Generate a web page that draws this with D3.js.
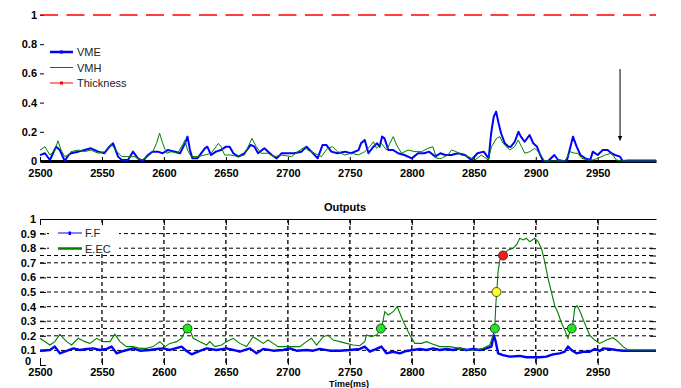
<!DOCTYPE html>
<html>
<head>
<meta charset="utf-8">
<script src="https://cdn.jsdelivr.net/npm/d3@7"></script>
<style>
  body { margin: 0; background: #fff; }
  svg { display: block; font-family: "Liberation Sans", Arial, sans-serif; }
  .tick text { font-weight: bold; font-size: 11px; fill: #000; }
  .lab { font-size: 11px; fill: #222; }
</style>
</head>
<body>
<svg id="chart" width="681" height="388"></svg>
<script>
// ---- top panel, [time (ms), value] ----
var vme = [[2500,0.04],[2504,0.053],[2508,0.007],[2510.5,0.053],[2513,0.098],[2516,0.075],[2520,0],[2523,0.041],[2525,0.053],[2531,0.064],[2536,0.075],[2541,0.087],[2547,0.064],[2552,0.053],[2556,0.098],[2559,0.121],[2563,0.03],[2566,0.007],[2571,0.007],[2575,0.064],[2579,0.018],[2583,0],[2587,0.041],[2591,0.064],[2595,0.064],[2599,0.053],[2603,0.075],[2609,0.064],[2613,0.053],[2617,0.121],[2619,0.167],[2621,0.075],[2623,0.018],[2627,0.018],[2633,0.087],[2635,0.098],[2638,0.041],[2642,0.064],[2646,0.075],[2650,0.098],[2653,0.098],[2656,0.053],[2660,0.03],[2665,0.053],[2670,0.11],[2673,0.098],[2676,0.053],[2681,0.087],[2687,0.041],[2691,0.018],[2695,0.053],[2700,0.053],[2705,0.053],[2711,0.064],[2715,0.098],[2719,0.064],[2724,0.018],[2728,0.11],[2731,0.11],[2735,0.064],[2740,0.053],[2746,0.064],[2751,0.053],[2757,0.075],[2759,0.121],[2762,0.144],[2765,0.053],[2769,0.098],[2772,0.121],[2774,0.098],[2776,0.167],[2778,0.155],[2781,0.075],[2785,0.075],[2789,0.053],[2794,0.041],[2800,0.018],[2805,0.053],[2810,0.053],[2814,0.064],[2819,0.03],[2823,0.053],[2827,0.041],[2832,0.041],[2837,0.053],[2843,0.041],[2848,0.007],[2853,0.053],[2858,0.064],[2862,0.018],[2864,0.19],[2866,0.3],[2868,0.338],[2870,0.258],[2872,0.19],[2875,0.121],[2878,0.098],[2880,0.098],[2883,0.132],[2886,0.2],[2888,0.167],[2891,0.132],[2895,0.178],[2898,0.121],[2901,0.098],[2903,0.053],[2906,0],[2910,0],[2915,0.041],[2918,0.007],[2922,0],[2925,0],[2928,0.098],[2930,0.167],[2933,0.098],[2936,0.041],[2940,0.018],[2944,0.007],[2946,0.064],[2950,0.041],[2954,0.075],[2958,0.075],[2961,0.053],[2964,0.041],[2968,0.03],[2970,0],[2975,0.003],[2997,0.003]];

var vmh = [[2500,0.075],[2504,0.098],[2508,0.041],[2512,0.075],[2514.5,0.139],[2517,0.075],[2520,0.03],[2523,0.041],[2525,0.064],[2531,0.075],[2536,0.064],[2541,0.075],[2547,0.053],[2552,0.064],[2557.5,0.116],[2562,0.064],[2566,0.03],[2571,0.03],[2576,0.03],[2582,0.007],[2587,0.03],[2591,0.064],[2594,0.121],[2596.5,0.19],[2599,0.121],[2602,0.053],[2606,0.064],[2611,0.053],[2615,0.11],[2617,0.144],[2619,0.075],[2622,0.03],[2627,0.03],[2633,0.041],[2638,0.053],[2644,0.121],[2646,0.098],[2649,0.041],[2654,0.041],[2660,0.03],[2665,0.041],[2671,0.155],[2674.5,0.098],[2678.5,0.053],[2684,0.053],[2689,0.03],[2695,0.041],[2703,0.03],[2708,0.064],[2713.5,0.095],[2716,0.075],[2721.5,0.053],[2727,0.03],[2732,0.087],[2736,0.098],[2740,0.064],[2746,0.041],[2751,0.053],[2757,0.041],[2762,0.064],[2766,0.098],[2769,0.132],[2771.5,0.087],[2775.6,0.121],[2779.6,0.075],[2785,0.167],[2787.7,0.11],[2791.7,0.053],[2797,0.075],[2802.5,0.064],[2808,0.064],[2813,0.087],[2817,0.098],[2820,0.018],[2824,0.018],[2829,0.041],[2832,0.075],[2836,0.064],[2840,0.041],[2845.5,0.03],[2851,0.007],[2856,0.041],[2861.6,0.007],[2864.3,0.098],[2868.3,0.155],[2871,0.167],[2873.6,0.121],[2876.4,0.098],[2879,0.075],[2883,0.098],[2885.8,0.144],[2888.5,0.098],[2891.2,0.053],[2895.2,0.064],[2899,0.087],[2902,0.064],[2904.6,0.03],[2907.3,0],[2915,0],[2923,0],[2924.8,0.018],[2927.5,0.064],[2931.5,0.053],[2934,0.053],[2937,0.018],[2942,0.007],[2946,0.007],[2950,0.018],[2956,0.041],[2961,0.053],[2965,0.007],[2969,0],[2997,0]];

var thickness = [[2500,1],[2997,1]];

// ---- bottom panel "Outputs" ----
var ff = [[2500,0.098],[2508,0.103],[2512,0.126],[2516,0.08],[2521.5,0.096],[2527,0.114],[2532,0.103],[2537.6,0.11],[2543,0.114],[2548.3,0.103],[2553.7,0.11],[2557.8,0.126],[2561.8,0.08],[2567.2,0.096],[2575.2,0.114],[2580.6,0.098],[2588.7,0.103],[2594.1,0.11],[2599.4,0.114],[2604.8,0.103],[2614.2,0.126],[2618.2,0.096],[2622.3,0.073],[2629,0.096],[2634.4,0.114],[2642.4,0.103],[2650.5,0.114],[2655.9,0.103],[2661.2,0.091],[2669.3,0.114],[2674.7,0.08],[2680.1,0.11],[2688.1,0.098],[2696.2,0.103],[2701.6,0.114],[2707,0.098],[2715,0.103],[2720.4,0.098],[2725.8,0.11],[2733.8,0.098],[2741.9,0.098],[2750,0.103],[2758,0.11],[2762,0.126],[2766.1,0.091],[2771.5,0.11],[2775.5,0.126],[2779.5,0.08],[2784.9,0.091],[2790.3,0.08],[2795.7,0.096],[2801,0.103],[2806.4,0.11],[2811.8,0.103],[2817.2,0.114],[2822.5,0.103],[2827.9,0.11],[2833.3,0.103],[2838.7,0.114],[2844.1,0.103],[2849.4,0.11],[2854.8,0.103],[2860.2,0.114],[2864.2,0.126],[2866.1,0.205],[2867.7,0.16],[2869.6,0.08],[2873.6,0.068],[2879,0.057],[2887.1,0.062],[2892.4,0.053],[2897.8,0.053],[2903.2,0.053],[2908.6,0.057],[2913.9,0.073],[2919.3,0.08],[2923.4,0.091],[2926,0.126],[2928.7,0.103],[2932.8,0.08],[2938.1,0.091],[2943.5,0.091],[2947.5,0.11],[2951.6,0.096],[2954.3,0.114],[2959.6,0.11],[2965,0.103],[2970.4,0.098],[2997,0.098]];

var eec = [[2500,0.183],[2508,0.137],[2512,0.16],[2516,0.21],[2521.5,0.16],[2525.5,0.137],[2530.9,0.183],[2536.2,0.16],[2540.3,0.148],[2545.7,0.183],[2551,0.16],[2556.4,0.16],[2560.4,0.21],[2564.5,0.16],[2569.8,0.126],[2575.2,0.126],[2580.6,0.114],[2586,0.114],[2591.3,0.126],[2596.7,0.16],[2600.8,0.126],[2604.8,0.148],[2610.2,0.16],[2614.2,0.183],[2619.6,0.27],[2623.6,0.183],[2629,0.16],[2634.4,0.137],[2637,0.16],[2641.1,0.126],[2646.5,0.137],[2650.5,0.16],[2655.9,0.183],[2661.2,0.148],[2666.6,0.126],[2672,0.194],[2676,0.171],[2680.1,0.148],[2684.1,0.171],[2688.1,0.148],[2692.2,0.126],[2698.9,0.126],[2704.3,0.126],[2709.6,0.126],[2715,0.16],[2719,0.183],[2723.1,0.137],[2728.5,0.194],[2732.5,0.205],[2736.5,0.171],[2742,0.16],[2747.3,0.148],[2752.7,0.137],[2758,0.132],[2762,0.16],[2763.4,0.205],[2767.4,0.194],[2771.5,0.205],[2775.5,0.25],[2778.2,0.365],[2780.9,0.342],[2785,0.365],[2788.1,0.4],[2790.3,0.356],[2794.3,0.275],[2798.4,0.205],[2802.4,0.148],[2807.8,0.148],[2811.8,0.16],[2817.2,0.142],[2822.5,0.126],[2830.6,0.126],[2838.7,0.114],[2846.7,0.103],[2852.1,0.103],[2857.5,0.114],[2862.9,0.137],[2865.6,0.205],[2866.9,0.25],[2867.7,0.406],[2868.5,0.5],[2869.6,0.638],[2871,0.719],[2873.6,0.758],[2877.7,0.788],[2881.7,0.8],[2884.4,0.822],[2887.1,0.868],[2889.8,0.857],[2892.4,0.868],[2895.1,0.845],[2899.2,0.868],[2901.9,0.845],[2904.5,0.8],[2907.2,0.708],[2909.9,0.594],[2912.6,0.5],[2915.3,0.406],[2918,0.356],[2920.7,0.288],[2923.4,0.24],[2926,0.183],[2927.4,0.228],[2929.5,0.25],[2931.4,0.388],[2933.3,0.406],[2935.5,0.372],[2938.1,0.315],[2940.8,0.258],[2943.5,0.205],[2947.5,0.171],[2951.6,0.148],[2957,0.171],[2962.3,0.187],[2966.4,0.16],[2970.4,0.126],[2974.4,0.103],[2997,0.103]];

// threshold crossings on E.EC
var markTime = [2619, 2775, 2867, 2929, 2868.3, 2873.6];
var markLevel = [0.25, 0.25, 0.25, 0.25, 0.5, 0.75];

var xTicks = [2500, 2550, 2600, 2650, 2700, 2750, 2800, 2850, 2900, 2950];
var yTopTicks = [0, 0.2, 0.4, 0.6, 0.8, 1];
var yBotTicks = [0, 0.1, 0.2, 0.3, 0.4, 0.5, 0.6, 0.7, 0.8, 0.9, 1];
var yBotGrid = [0.1, 0.2, 0.25, 0.3, 0.4, 0.5, 0.6, 0.7, 0.75, 0.8, 0.9];

// annotation arrow in top panel
var arrowTime = 2968, arrowFrom = 0.63, arrowTo = 0.14;

function draw() {
    var svg = d3.select("#chart");

    var x = d3.scaleLinear().domain([2500, 2997]).range([40, 656]);
    var yTop = d3.scaleLinear().domain([0, 1]).range([161, 15]);
    var yBot = d3.scaleLinear().domain([0, 1]).range([365, 219]);
    var fmt = d3.format("~g");
    var xfmt = d3.format("d");

    svg.append("defs").append("marker")
        .attr("id", "arrowhead")
        .attr("viewBox", "0 0 10 10")
        .attr("refX", 10).attr("refY", 5)
        .attr("markerWidth", 5).attr("markerHeight", 6)
        .attr("orient", "auto")
        .append("path").attr("d", "M0,0L10,5L0,10z").attr("fill", "#000");

    // ================= top panel =================
    var top = svg.append("g");

    var xAxisTop = top.append("g")
        .attr("transform", "translate(0,161)")
        .call(d3.axisBottom(x).tickValues(xTicks).tickFormat(xfmt).tickSizeInner(-4).tickSizeOuter(0).tickPadding(8));
    xAxisTop.select(".domain").attr("stroke-width", 3);

    var yAxisTop = top.append("g")
        .attr("transform", "translate(40,0)")
        .call(d3.axisLeft(yTop).tickValues(yTopTicks).tickFormat(fmt).tickSizeInner(-4).tickPadding(3));
    yAxisTop.select(".domain").remove();

    var lineTop = d3.line()
        .x(function (d) { return x(d[0]); })
        .y(function (d) { return yTop(d[1]); });

    top.append("path").datum(thickness)
        .attr("fill", "none").attr("stroke", "#ff0000").attr("stroke-width", 1.3)
        .attr("stroke-dasharray", "18,8.5")
        .attr("d", lineTop);

    top.append("path").datum(vme)
        .attr("fill", "none").attr("stroke", "#0000ff").attr("stroke-width", 2)
        .attr("stroke-linejoin", "round")
        .attr("d", lineTop);

    top.append("path").datum(vmh)
        .attr("fill", "none").attr("stroke", "#008000").attr("stroke-width", 1)
        .attr("d", lineTop);

    top.append("line")
        .attr("x1", x(arrowTime)).attr("x2", x(arrowTime))
        .attr("y1", yTop(arrowFrom)).attr("y2", yTop(arrowTo))
        .attr("stroke", "#000").attr("stroke-width", 1)
        .attr("marker-end", "url(#arrowhead)");

    // legend (top)
    var legTop = [
        { name: "VME", color: "#0000ff", w: 2.5, mark: true },
        { name: "VMH", color: "#008000", w: 1, mark: false },
        { name: "Thickness", color: "#ff0000", w: 1, mark: true }
    ];
    legTop.forEach(function (d, i) {
        var ly = 52 + i * 15.5;
        top.append("line").attr("x1", 50).attr("x2", 73).attr("y1", ly).attr("y2", ly)
            .attr("stroke", d.color).attr("stroke-width", d.w);
        if (d.mark) {
            top.append("rect").attr("x", 60).attr("y", ly - 1.5).attr("width", 3).attr("height", 3)
                .attr("fill", d.color);
        }
        top.append("text").attr("class", "lab").attr("x", 77).attr("y", ly + 4).text(d.name);
    });

    // ================= bottom panel =================
    var bot = svg.append("g");

    // dashed grid
    bot.selectAll(".hgrid").data(yBotGrid).enter().append("line")
        .attr("class", "hgrid")
        .attr("x1", 40).attr("x2", 656)
        .attr("y1", function (d) { return yBot(d); })
        .attr("y2", function (d) { return yBot(d); })
        .attr("stroke", "#000").attr("stroke-width", 1)
        .attr("stroke-dasharray", "4,3");

    bot.selectAll(".vgrid").data(xTicks.slice(1)).enter().append("line")
        .attr("class", "vgrid")
        .attr("x1", function (d) { return x(d); })
        .attr("x2", function (d) { return x(d); })
        .attr("y1", 219).attr("y2", 365)
        .attr("stroke", "#000").attr("stroke-width", 1.3)
        .attr("stroke-dasharray", "4,3");

    var xAxisBot = bot.append("g")
        .attr("transform", "translate(0,365)")
        .call(d3.axisBottom(x).tickValues(xTicks).tickFormat(xfmt).tickSizeInner(-7).tickSizeOuter(0).tickPadding(3));
    xAxisBot.select(".domain").remove();

    bot.append("g")
        .attr("transform", "translate(0,219)")
        .call(d3.axisTop(x).tickValues(xTicks).tickFormat("").tickSizeInner(-6).tickSizeOuter(0));

    var yAxisBot = bot.append("g")
        .attr("transform", "translate(40,0)")
        .call(d3.axisLeft(yBot).tickValues(yBotTicks).tickFormat(fmt).tickSizeInner(-6).tickPadding(4));
    yAxisBot.select(".domain").remove();
    // the "0" label sits a bit high and left, just clear of the 2500 label below it
    yAxisBot.selectAll(".tick text").filter(function (d) { return d === 0; })
        .attr("dy", "-0.05em").attr("x", -9);

    var yAxisBotR = bot.append("g")
        .attr("transform", "translate(656,0)")
        .call(d3.axisRight(yBot).tickValues(yBotGrid).tickFormat("").tickSizeInner(-6));
    yAxisBotR.select(".domain").remove();

    var lineBot = d3.line()
        .x(function (d) { return x(d[0]); })
        .y(function (d) { return yBot(d[1]); });

    bot.append("path").datum(ff)
        .attr("fill", "none").attr("stroke", "#0000ff").attr("stroke-width", 2.4)
        .attr("stroke-linejoin", "round")
        .attr("d", lineBot);

    bot.append("path").datum(eec)
        .attr("fill", "none").attr("stroke", "#008000").attr("stroke-width", 1.1)
        .attr("d", lineBot);

    var markColor = d3.scaleOrdinal().domain([0.25, 0.5, 0.75])
        .range(["#22e622", "#ffff22", "#ff1a1a"]);

    bot.selectAll(".mk").data(markTime).enter().append("circle")
        .attr("class", "mk")
        .attr("cx", function (d) { return x(d); })
        .attr("cy", function (d, i) { return yBot(markLevel[i]); })
        .attr("r", 4.5)
        .attr("fill", function (d, i) { return markColor(markLevel[i]); })
        .attr("stroke", "#222").attr("stroke-width", 0.8);

    // legend (bottom), white box over the grid
    bot.append("rect").attr("x", 49).attr("y", 226).attr("width", 70).attr("height", 26)
        .attr("fill", "#fff");
    var legBot = [
        { name: "F.F", color: "#0000ff", w: 1, mark: true },
        { name: "E.EC", color: "#008000", w: 2.5, mark: false }
    ];
    legBot.forEach(function (d, i) {
        var ly = 233 + i * 15.5;
        bot.append("line").attr("x1", 58).attr("x2", 82).attr("y1", ly).attr("y2", ly)
            .attr("stroke", d.color).attr("stroke-width", d.w);
        if (d.mark) {
            bot.append("rect").attr("x", 68.5).attr("y", ly - 1.5).attr("width", 2.5).attr("height", 3.5)
                .attr("fill", d.color);
        }
        bot.append("text").attr("class", "lab").attr("x", 85).attr("y", ly + 4).text(d.name);
    });

    bot.append("text")
        .attr("x", 345).attr("y", 211)
        .attr("text-anchor", "middle")
        .style("font-weight", "bold").style("font-size", "11px")
        .text("Outputs");

    bot.append("text")
        .attr("x", 349).attr("y", 386.5)
        .attr("text-anchor", "middle")
        .style("font-weight", "bold").style("font-size", "9px")
        .text("Time(ms)");
}

draw();
</script>
</body>
</html>
